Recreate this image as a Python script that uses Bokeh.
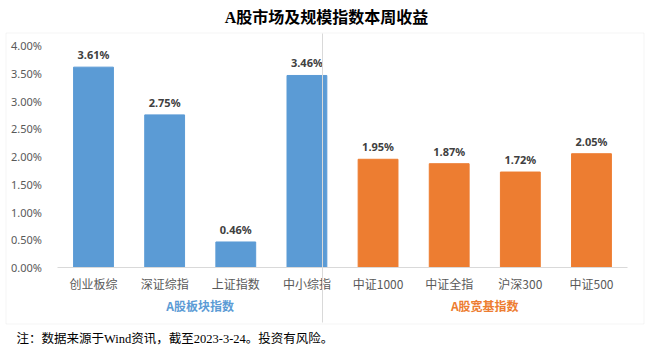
from bokeh.plotting import figure
from bokeh.models import (ColumnDataSource, NumeralTickFormatter, FixedTicker, Label,
                          BoxAnnotation, Range1d, LabelSet, LinearAxis)
from bokeh.core.properties import value
from bokeh.embed import file_html
from bokeh.resources import INLINE

title = "A股市场及规模指数本周收益"
categories = ["创业板综", "深证综指", "上证指数", "中小综指", "中证1000", "中证全指", "沪深300", "中证500"]
values = [3.61, 2.75, 0.46, 3.46, 1.95, 1.87, 1.72, 2.05]
groups = ["A股板块指数", "A股板块指数", "A股板块指数", "A股板块指数",
          "A股宽基指数", "A股宽基指数", "A股宽基指数", "A股宽基指数"]
group_names = ["A股板块指数", "A股宽基指数"]
yticks = [0.0, 0.005, 0.01, 0.015, 0.02, 0.025, 0.03, 0.035, 0.04]
footnote = "注：数据来源于Wind资讯，截至2023-3-24。投资有风险。"

BLUE = "#5B9BD5"
ORANGE = "#ED7D31"
group_colors = {group_names[0]: BLUE, group_names[1]: ORANGE}

xs = list(range(len(categories)))
src = ColumnDataSource(dict(
    x=xs,
    val=[v / 100 for v in values],
    lbl=["%.2f%%" % v for v in values],
    color=[group_colors[g] for g in groups],
))

W, H = 652, 353
# layout geometry (pixels): first bar centre, spacing, zero line, px per 1%
X0, DX = 93.0, 71.14
Y0, DY = 267.0, 55.5

x_start = -X0 / DX
x_end = x_start + W / DX
y_end = Y0 / DY / 100
y_start = -(H - Y0) / DY / 100


def sx(px):
    return px


def sy(py):
    return H - py


p = figure(x_range=Range1d(x_start, x_end), y_range=Range1d(y_start, y_end),
           width=W, height=H, output_backend="svg", toolbar_location=None,
           x_axis_location=None, y_axis_location=None,
           min_border=0, min_border_left=0, min_border_right=0,
           min_border_top=0, min_border_bottom=0)
p.outline_line_color = None
p.background_fill_color = "white"
p.border_fill_color = "white"
p.xgrid.grid_line_color = None
p.ygrid.grid_line_color = None

p.vbar(x="x", top="val", width=0.56, color="color", source=src)

p.add_layout(LabelSet(x="x", y="val", text="lbl", source=src, y_offset=5,
                      text_align="center", text_baseline="bottom",
                      text_font=value("Noto Sans"), text_font_size="11px",
                      text_font_style="bold", text_color="#404040"))

yaxis = LinearAxis(ticker=FixedTicker(ticks=yticks),
                   formatter=NumeralTickFormatter(format="0.00%"),
                   fixed_location=-0.5)
yaxis.axis_line_color = None
yaxis.major_tick_line_color = None
yaxis.minor_tick_line_color = None
yaxis.major_label_text_font = "Noto Sans"
yaxis.major_label_text_font_size = "11px"
yaxis.major_label_text_color = "#595959"
yaxis.major_label_standoff = 10
p.add_layout(yaxis, "left")

xaxis = LinearAxis(ticker=FixedTicker(ticks=xs),
                   major_label_overrides={i: c for i, c in zip(xs, categories)},
                   fixed_location=0, bounds=(-0.5, 7.5))
xaxis.axis_line_color = "#D9D9D9"
xaxis.major_tick_line_color = None
xaxis.minor_tick_line_color = None
xaxis.major_label_text_font = "Noto Sans CJK SC"
xaxis.major_label_text_font_size = "12px"
xaxis.major_label_text_color = "#595959"
xaxis.major_label_standoff = 1
p.add_layout(xaxis, "below")

# border box and divider
p.add_layout(BoxAnnotation(left=sx(5.5), right=sx(643.5), bottom=sy(323.5), top=sy(32.5),
                           left_units="screen", right_units="screen",
                           top_units="screen", bottom_units="screen",
                           fill_color=None, line_color="#D9D9D9", line_width=1))
p.add_layout(BoxAnnotation(left=sx(321.5), right=sx(322.5), bottom=sy(322), top=sy(33),
                           left_units="screen", right_units="screen",
                           top_units="screen", bottom_units="screen",
                           fill_color="#D9D9D9", fill_alpha=1, line_color=None))

p.add_layout(Label(x=sx(326), y=sy(17), x_units="screen", y_units="screen", text=title,
                   text_align="center", text_baseline="middle",
                   text_font="'Liberation Serif', 'Noto Sans CJK SC'", text_font_size="16px",
                   text_font_style="bold", text_color="#000000"))
p.add_layout(Label(x=1.5, y=sy(305), y_units="screen", text=group_names[0],
                   text_align="center", text_baseline="middle",
                   text_font="Noto Sans CJK SC", text_font_size="12px", text_font_style="bold",
                   text_color=BLUE))
p.add_layout(Label(x=5.5, y=sy(305), y_units="screen", text=group_names[1],
                   text_align="center", text_baseline="middle",
                   text_font="Noto Sans CJK SC", text_font_size="12px", text_font_style="bold",
                   text_color=ORANGE))
p.add_layout(Label(x=sx(16), y=sy(338), x_units="screen", y_units="screen", text=footnote,
                   text_align="left", text_baseline="middle",
                   text_font="'Liberation Serif', 'Noto Sans CJK SC'", text_font_size="12.5px",
                   text_color="#000000"))

open("out.html", "w").write(file_html(p, INLINE))
